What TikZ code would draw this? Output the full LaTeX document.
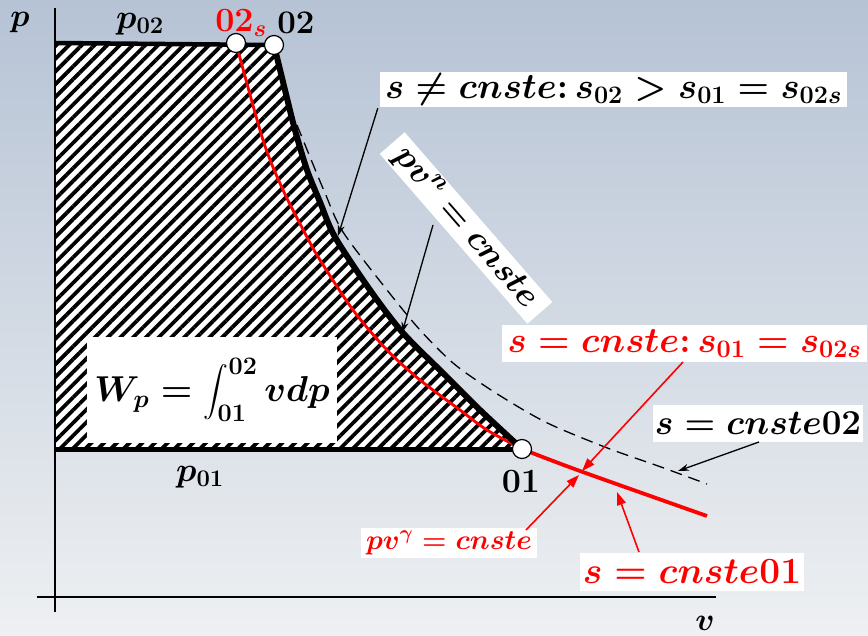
\RequirePackage{fix-cm}
\documentclass[tikz,border=0pt]{standalone}
\usepackage{amsmath}
\usetikzlibrary{patterns.meta,arrows.meta}
\definecolor{bgtop}{RGB}{182,195,213}
\definecolor{bgbot}{RGB}{238,240,242}
\definecolor{myred}{RGB}{255,0,0}
\begin{document}
\begin{tikzpicture}[x=1pt,y=-1pt,
 every node/.style={inner sep=0pt},
 fs/.style={font=\fontsize{#1}{#1}\selectfont\boldmath},
 wbox/.style={fill=white},
 dot/.style={circle,draw=black,fill=white,line width=1.2pt,minimum size=19pt},
 blk/.style={-{Stealth[length=11pt,width=7pt]},line width=1.3pt},
 redarr/.style={-{Triangle[length=13pt,width=9pt]},myred,line width=1.6pt},
]
\useasboundingbox (0,0) rectangle (868,636);
\shade[top color=bgtop,bottom color=bgbot] (0,0) rectangle (868,636);

\coordinate (A02s) at (236,43);
\coordinate (A02) at (274,45);
\coordinate (A01) at (522,449);
\coordinate (TL) at (55,43);
\coordinate (BL) at (55,449);

% hatched area
\path[preaction={fill=white},pattern={Lines[angle=45,distance=9pt,line width=3.8pt]}]
  (TL) -- (A02) -- plot[smooth] coordinates {(A02) (285,90) (295,130) (307,170) (320,202) (335,237) (370,290) (403,333) (447,377) (480,410) (A01)} -- (BL) -- cycle;
\node[wbox,minimum width=250pt,minimum height=106pt,fs=36] (W) at (212,390) {$W_p=\displaystyle\int_{01}^{02} vdp$};

\draw[line width=4.5pt] (TL) -- (A02);
\draw[line width=5pt] (BL) -- (A01);

% axes
\coordinate (Ytop) at (55,8);
\coordinate (Ybot) at (55,612);
\coordinate (Xl) at (37,597);
\coordinate (Xr) at (716,597);
\draw[line width=1.5pt] (Ytop) -- (Ybot);
\draw[line width=1.5pt] (Xl) -- (Xr);

% curves
\draw[myred,line width=2.8pt] plot[smooth] coordinates {(A02s) (263,140) (283,190) (307,237) (320,260) (353,310) (387,350) (420,380) (460,410) (487,430) (A01)};
\draw[myred,line width=3.8pt] plot[smooth] coordinates {(A01) (580,471) (707,516)};
\draw[line width=6pt] plot[smooth] coordinates {(A02) (285,90) (295,130) (307,170) (320,202) (335,237) (370,290) (403,333) (447,377) (480,410) (A01)};
\draw[line width=1.3pt,dash pattern=on 12pt off 7pt] plot[smooth] coordinates {(297,125) (310,157) (325,193) (343,232) (387,290) (420,330) (453,363) (488,388) (527,412) (556,427) (610,449) (661,467) (707,484)};

\node[dot] (n02s) at (A02s) {};
\node[dot] (n02) at (A02) {};
\node[dot] (n01) at (A01) {};

% labels
\node[fs=32] (lp) at (20,23) {$p$};
\node[fs=32] (lv) at (705,623) {$v$};
\node[fs=34] (lp02) at (140,24) {$p_{02}$};
\node[fs=34,text=myred] (l02s) at (241,23) {$02_s$};
\node[fs=33] (l02) at (296,23) {$02$};
\node[fs=34] (l01) at (521,482) {$01$};
\node[fs=34] (lp01) at (200,477) {$p_{01}$};

% boxes
\node[wbox,fs=36,minimum width=467pt,minimum height=35pt] (sne) at (613.5,89.5) {$s\neq cnste\mathpunct{:}s_{02}>s_{01}=s_{02s}$};
\node[wbox,fs=34,minimum width=225pt,minimum height=33pt,rotate=-49] (pvn) at (466,228) {$pv^n=cnste$};
\node[wbox,fs=36,text=myred,minimum width=365pt,minimum height=37pt] (seq) at (684.5,343.5) {$s=cnste\mathpunct{:}s_{01}=s_{02s}$};
\node[wbox,fs=35,minimum width=210pt,minimum height=37pt] (s02) at (758,423.5) {$s=cnste02$};
\node[wbox,fs=28,text=myred,minimum width=176pt,minimum height=30pt] (pvg) at (449,543) {$pv^\gamma=cnste$};
\node[wbox,fs=37,text=myred,minimum width=224pt,minimum height=38pt] (s01) at (692,572) {$s=cnste01$};

% arrows
\coordinate (t1) at (338,236);
\coordinate (t2) at (402,333);
\coordinate (t3) at (582,471);
\coordinate (t4) at (678,471);
\coordinate (t5) at (579,475);
\coordinate (t6) at (617,492);
\draw[blk] (sne.south west) ++(-2,1) -- (t1);
\draw[blk] (433,225) -- (t2);
\draw[redarr] (683,362) -- (t3);
\draw[blk] (759,442) -- (t4);
\draw[redarr] (526,530) -- (t5);
\draw[redarr] (639,552) -- (t6);
\end{tikzpicture}
\end{document}
